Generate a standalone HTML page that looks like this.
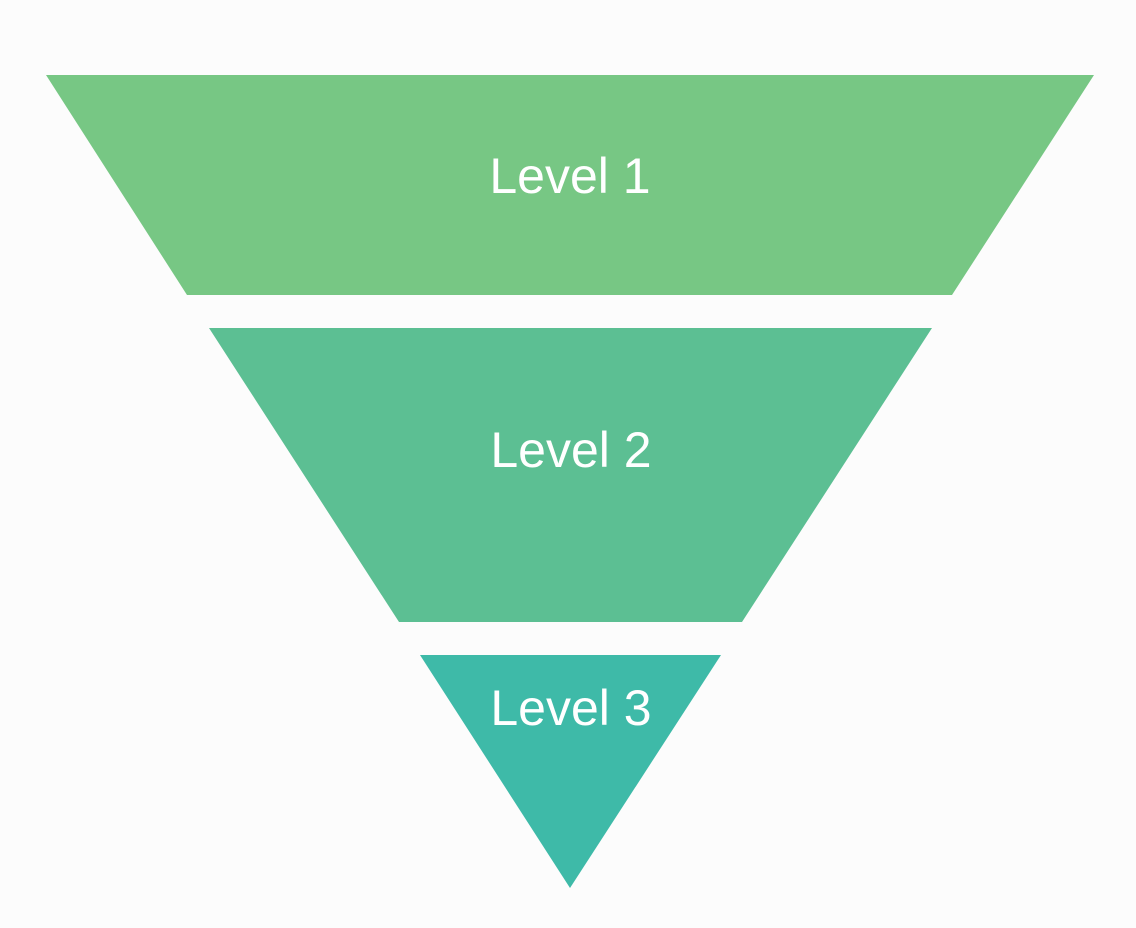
<!DOCTYPE html>
<html><head><meta charset="utf-8"><style>
html,body{margin:0;padding:0;background:#fcfcfc;}
svg{display:block}
text{font-family:"Liberation Sans",sans-serif;font-size:50px;fill:#fff;text-anchor:middle}
</style></head><body>
<svg width="1136" height="928" viewBox="0 0 1136 928">
<rect width="1136" height="928" fill="#fcfcfc"/>
<polygon points="46,75 1094,75 952,295 187,295" fill="#77c784"/>
<polygon points="209,328 932,328 742,622 399,622" fill="#5cbf93"/>
<polygon points="420,655 721,655 570,888" fill="#3ebaa8"/>
<text x="570" y="193">Level 1</text>
<text x="571" y="467">Level 2</text>
<text x="571" y="725">Level 3</text>
</svg>
</body></html>
